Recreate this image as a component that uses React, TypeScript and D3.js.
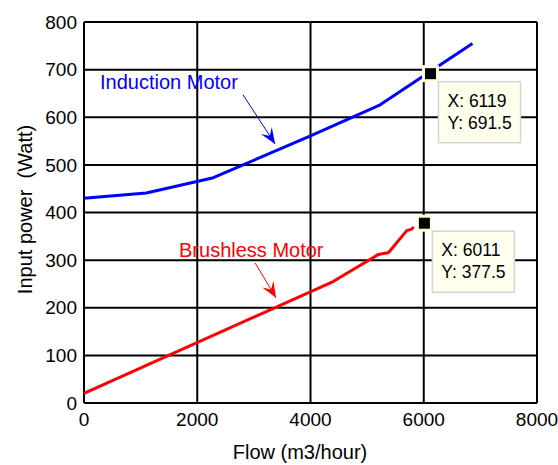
import React from 'react';
import * as d3 from 'd3';

// flow (m3/hour) vs input power (W)
const inductionFlow = [0, 1100, 2285, 4000, 5230, 6860];
const inductionPower = [430, 441, 473, 561, 626, 755];
const brushlessFlow = [0, 4400, 5200, 5380, 5700, 5790, 5820];
const brushlessPower = [20, 255, 312, 316, 362, 365, 370];

const xTicks = [0, 2000, 4000, 6000, 8000];
const yTicks = [0, 100, 200, 300, 400, 500, 600, 700, 800];

// data tips: [flow, power]
const tips = [
  { x: 6119, y: 691.5 },
  { x: 6011, y: 377.5 },
];

// annotations, in data units
const labels = [
  { text: 'Induction Motor', color: '#0000ff', tx: 283, ty: 660, from: [2809, 647], to: [3375, 544] },
  { text: 'Brushless Motor', color: '#ff0000', tx: 1678, ty: 307, from: [3021, 294], to: [3392, 221] },
];

const W = 558;
const H = 465;
const margin = { left: 84, right: 21, top: 22, bottom: 62 };
const font = '"Liberation Sans", Arial, Helvetica, sans-serif';

function arrowHead(x1: number, y1: number, x2: number, y2: number) {
  const len = Math.hypot(x2 - x1, y2 - y1);
  const dx = (x2 - x1) / len;
  const dy = (y2 - y1) / len;
  const L = 16;
  const w = 6.5;
  const bx = x2 - dx * L;
  const by = y2 - dy * L;
  const pts = [
    [x2, y2],
    [bx - dy * w, by + dx * w],
    [x2 - dx * L * 0.6, y2 - dy * L * 0.6],
    [bx + dy * w, by - dx * w],
  ];
  return pts.map((p) => p.join(',')).join(' ');
}

export default function App() {
  const x = d3.scaleLinear().domain([0, 8000]).range([margin.left, W - margin.right]);
  const y = d3.scaleLinear().domain([0, 800]).range([H - margin.bottom, margin.top]);

  const line = d3
    .line<[number, number]>()
    .x((d) => x(d[0]))
    .y((d) => y(d[1]));

  const induction = inductionFlow.map((f, i) => [f, inductionPower[i]] as [number, number]);
  const brushless = brushlessFlow.map((f, i) => [f, brushlessPower[i]] as [number, number]);

  return (
    <svg
      width={W}
      height={H}
      style={{ position: 'absolute', left: 0, top: 0, background: '#fff' }}
      fontFamily={font}
    >
      {/* grid */}
      {xTicks.map((t) => (
        <line key={'gx' + t} x1={x(t)} x2={x(t)} y1={y(0)} y2={y(800)} stroke="#000" strokeWidth={2} />
      ))}
      {yTicks.map((t) => (
        <line key={'gy' + t} x1={x(0)} x2={x(8000)} y1={y(t)} y2={y(t)} stroke="#000" strokeWidth={2} />
      ))}

      {/* tick labels */}
      {xTicks.map((t) => (
        <text key={'tx' + t} x={x(t)} y={y(0) + 23} textAnchor="middle" fontSize={19} fill="#000">
          {t}
        </text>
      ))}
      {yTicks.map((t) => (
        <text key={'ty' + t} x={x(0) - 7} y={y(t)} dy="0.35em" textAnchor="end" fontSize={19} fill="#000">
          {t}
        </text>
      ))}

      {/* axis titles */}
      <text x={300} y={459} textAnchor="middle" fontSize={20} fill="#000">
        Flow (m3/hour)
      </text>
      <text
        transform={`translate(25, ${(y(0) + y(800)) / 2 - 3}) rotate(-90)`}
        textAnchor="middle"
        dy="0.35em"
        fontSize={20}
        fill="#000"
        style={{ whiteSpace: 'pre' }}
      >
        {'Input power  (Watt)'}
      </text>

      {/* series */}
      <path d={line(induction) || ''} fill="none" stroke="#0000ff" strokeWidth={3} strokeLinejoin="round" />
      <path d={line(brushless) || ''} fill="none" stroke="#ff0000" strokeWidth={3} strokeLinejoin="round" />

      {/* annotations */}
      {labels.map((l) => {
        const x1 = x(l.from[0]);
        const y1 = y(l.from[1]);
        const x2 = x(l.to[0]);
        const y2 = y(l.to[1]);
        return (
          <g key={l.text}>
            <text x={x(l.tx)} y={y(l.ty)} fontSize={20} fill={l.color}>
              {l.text}
            </text>
            <line x1={x1} y1={y1} x2={x2} y2={y2} stroke={l.color} strokeWidth={1} />
            <polygon points={arrowHead(x1, y1, x2, y2)} fill={l.color} />
          </g>
        );
      })}

      {/* data tips */}
      {tips.map((t) => {
        const cx = x(t.x);
        const cy = y(t.y);
        return (
          <g key={'tip' + t.x}>
            <rect x={cx - 7} y={cy - 7} width={14} height={14} fill="#000" stroke="#ffffe0" strokeWidth={3} />
            <rect x={cx + 8} y={cy + 8} width={82} height={61} fill="#ffffee" stroke="#d4d4d4" strokeWidth={1.5} />
            <text x={cx + 17} y={cy + 33} fontSize={17.5} fill="#000">
              {'X: ' + t.x}
            </text>
            <text x={cx + 17} y={cy + 55} fontSize={17.5} fill="#000">
              {'Y: ' + t.y}
            </text>
          </g>
        );
      })}
    </svg>
  );
}
